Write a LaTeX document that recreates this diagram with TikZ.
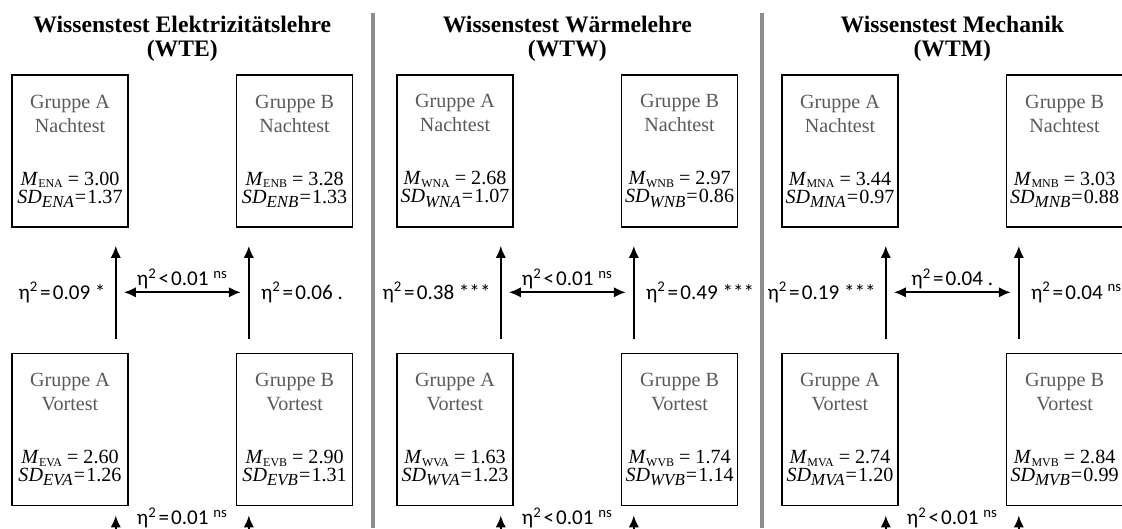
\documentclass[tikz,border=0pt]{standalone}
\usepackage{fontspec}
\setmainfont{Liberation Serif}
\newfontfamily\efffont{Carlito}
\usepackage{tikz}
\usetikzlibrary{arrows.meta, positioning}

\definecolor{txtgray}{RGB}{89,89,89}
\definecolor{sepgray}{RGB}{140,140,140}

% box text: group, test, index, mean, sd
\newcommand{\grpbox}[5]{\textcolor{txtgray}{Gruppe #1}\\\textcolor{txtgray}{#2}\\[20.6pt]%
\textit{M}\raisebox{-0.3ex}{\fontsize{8.5}{8.5}\selectfont #3} = #4\\[-4.3pt]%
\textit{SD}\raisebox{-0.45ex}{\fontsize{12}{12}\selectfont\itshape #3}\hspace{0.8pt}{=}\hspace{0.8pt}#5}
\newcommand{\etasq}{η\textsuperscript{2}}
\newcommand{\eq}{\hspace{1.5pt}=\hspace{1.5pt}}
\newcommand{\lt}{\hspace{1.5pt}<\hspace{1.5pt}}

\begin{document}
\begin{tikzpicture}[x=0.025cm, y=-0.025cm, >={Latex[length=3mm,width=2.6mm]}]
\tikzstyle{grp}=[draw, line width=1.1pt, minimum width=2.9cm, minimum height=3.8cm, inner sep=0pt, align=center, font=\fontsize{14.3}{17.1}\selectfont]
\tikzstyle{eff}=[inner sep=0pt, font=\efffont\fontsize{15}{18}\selectfont]
\tikzstyle{ttl}=[inner sep=0pt, align=center, font=\bfseries\fontsize{16.8}{17}\selectfont]
\tikzstyle{arr}=[line width=1.5pt]
\tikzstyle{sep}=[draw=sepgray, line width=2.3pt]

\useasboundingbox (0,0) rectangle (1122,528);

% Elektrizitaetslehre
\node[grp] (na_e) at (70,151) {\grpbox{A}{Nachtest}{ENA}{3.00}{1.37}};
\node[grp] (nb_e) [right=2.675cm of na_e] {\grpbox{B}{Nachtest}{ENB}{3.28}{1.33}};
\node[grp] (va_e) [below=3.125cm of na_e] {\grpbox{A}{Vortest}{EVA}{2.60}{1.26}};
\node[grp] (vb_e) [right=2.675cm of va_e] {\grpbox{B}{Vortest}{EVB}{2.90}{1.31}};
\path (na_e.north) -- coordinate[midway] (mt_e) (nb_e.north);
\node[ttl] (t_e) [above=0.3cm of mt_e] {Wissenstest Elektrizitätslehre\\(WTE)};

\draw[arr, ->] ([shift={(-13,-14)}]va_e.north east) -- coordinate[midway] (ma_e) ([shift={(-13,18)}]na_e.south east);
\draw[arr, ->] ([shift={(13,-14)}]vb_e.north west) -- coordinate[midway] (mb_e) ([shift={(13,18)}]nb_e.south west);
\draw[arr, <->] ([shift={(8,0)}]ma_e) -- node[eff, above=0.05cm] (h_e) {\etasq\lt0.01 \textsuperscript{ns}} ([shift={(-8,0)}]mb_e);
\node[eff] (la_e) [left=0.25cm of ma_e] {\etasq\eq0.09 *};
\node[eff] (lb_e) [right=0.3cm of mb_e] {\etasq\eq0.06 .};

\coordinate (ba_e) at ([shift={(-13,25)}]va_e.south east);
\coordinate (bb_e) at ([shift={(13,25)}]vb_e.south west);
\draw[arr, ->, shorten >=0.225cm] (ba_e) -- (ba_e |- va_e.south);
\draw[arr, ->, shorten >=0.225cm] (bb_e) -- (bb_e |- vb_e.south);
\path (va_e.south east) -- coordinate[midway] (mv_e) (vb_e.south west);
\node[eff, anchor=base] (bl_e) at ([shift={(0,18)}]mv_e) {\etasq\eq0.01 \textsuperscript{ns}};

% Waermelehre
\node[grp] (na_w) at (455,151) {\grpbox{A}{Nachtest}{WNA}{2.68}{1.07}};
\node[grp] (nb_w) [right=2.675cm of na_w] {\grpbox{B}{Nachtest}{WNB}{2.97}{0.86}};
\node[grp] (va_w) [below=3.125cm of na_w] {\grpbox{A}{Vortest}{WVA}{1.63}{1.23}};
\node[grp] (vb_w) [right=2.675cm of va_w] {\grpbox{B}{Vortest}{WVB}{1.74}{1.14}};
\path (na_w.north) -- coordinate[midway] (mt_w) (nb_w.north);
\node[ttl] (t_w) [above=0.3cm of mt_w] {Wissenstest Wärmelehre\\(WTW)};

\draw[arr, ->] ([shift={(-13,-14)}]va_w.north east) -- coordinate[midway] (ma_w) ([shift={(-13,18)}]na_w.south east);
\draw[arr, ->] ([shift={(13,-14)}]vb_w.north west) -- coordinate[midway] (mb_w) ([shift={(13,18)}]nb_w.south west);
\draw[arr, <->] ([shift={(8,0)}]ma_w) -- node[eff, above=0.05cm] (h_w) {\etasq\lt0.01 \textsuperscript{ns}} ([shift={(-8,0)}]mb_w);
\node[eff] (la_w) [left=0.25cm of ma_w] {\etasq\eq0.38 ***};
\node[eff] (lb_w) [right=0.3cm of mb_w] {\etasq\eq0.49 ***};

\coordinate (ba_w) at ([shift={(-13,25)}]va_w.south east);
\coordinate (bb_w) at ([shift={(13,25)}]vb_w.south west);
\draw[arr, ->, shorten >=0.225cm] (ba_w) -- (ba_w |- va_w.south);
\draw[arr, ->, shorten >=0.225cm] (bb_w) -- (bb_w |- vb_w.south);
\path (va_w.south east) -- coordinate[midway] (mv_w) (vb_w.south west);
\node[eff, anchor=base] (bl_w) at ([shift={(0,18)}]mv_w) {\etasq\lt0.01 \textsuperscript{ns}};

% Mechanik
\node[grp] (na_m) at (840,151) {\grpbox{A}{Nachtest}{MNA}{3.44}{0.97}};
\node[grp] (nb_m) [right=2.675cm of na_m] {\grpbox{B}{Nachtest}{MNB}{3.03}{0.88}};
\node[grp] (va_m) [below=3.125cm of na_m] {\grpbox{A}{Vortest}{MVA}{2.74}{1.20}};
\node[grp] (vb_m) [right=2.675cm of va_m] {\grpbox{B}{Vortest}{MVB}{2.84}{0.99}};
\path (na_m.north) -- coordinate[midway] (mt_m) (nb_m.north);
\node[ttl] (t_m) [above=0.3cm of mt_m] {Wissenstest Mechanik\\(WTM)};

\draw[arr, ->] ([shift={(-13,-14)}]va_m.north east) -- coordinate[midway] (ma_m) ([shift={(-13,18)}]na_m.south east);
\draw[arr, ->] ([shift={(13,-14)}]vb_m.north west) -- coordinate[midway] (mb_m) ([shift={(13,18)}]nb_m.south west);
\draw[arr, <->] ([shift={(8,0)}]ma_m) -- node[eff, above=0.05cm] (h_m) {\etasq\eq0.04 .} ([shift={(-8,0)}]mb_m);
\node[eff] (la_m) [left=0.25cm of ma_m] {\etasq\eq0.19 ***};
\node[eff] (lb_m) [right=0.3cm of mb_m] {\etasq\eq0.04 \textsuperscript{ns}};

\coordinate (ba_m) at ([shift={(-13,25)}]va_m.south east);
\coordinate (bb_m) at ([shift={(13,25)}]vb_m.south west);
\draw[arr, ->, shorten >=0.225cm] (ba_m) -- (ba_m |- va_m.south);
\draw[arr, ->, shorten >=0.225cm] (bb_m) -- (bb_m |- vb_m.south);
\path (va_m.south east) -- coordinate[midway] (mv_m) (vb_m.south west);
\node[eff, anchor=base] (bl_m) at ([shift={(0,18)}]mv_m) {\etasq\lt0.01 \textsuperscript{ns}};

% separators
\coordinate (s1t) at (373,13);
\coordinate (s2t) at (762,13);
\draw[sep] (s1t) -- (s1t |- 0,528);
\draw[sep] (s2t) -- (s2t |- 0,528);
\end{tikzpicture}
\end{document}
